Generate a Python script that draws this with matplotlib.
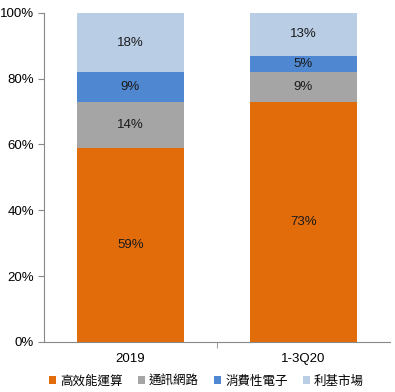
import matplotlib
matplotlib.use("Agg")
import matplotlib.pyplot as plt
import numpy as np

plt.rcParams["font.family"] = ["Liberation Sans", "Noto Sans CJK TC", "DejaVu Sans"]

categories = ["2019", "1-3Q20"]
series_names = ["高效能運算", "通訊網路", "消費性電子", "利基市場"]
hpc = [59, 73]
network = [14, 9]
consumer = [9, 5]
niche = [18, 13]
colors = ["#E36C0A", "#A5A5A5", "#4F87D0", "#B9CDE5"]


def main():
    fig = plt.figure(figsize=(3.95, 3.92), dpi=100)
    ax = fig.add_axes([0.111, 0.128, 0.876, 0.839])

    x = np.arange(len(categories))
    bottom = np.zeros(len(categories))
    for name, vals, color in zip(series_names, [hpc, network, consumer, niche], colors):
        vals = np.array(vals, dtype=float)
        ax.bar(x, vals, 0.62, bottom=bottom, color=color, label=name)
        for xi, b, v in zip(x, bottom, vals):
            ax.text(xi, b + v / 2, f"{v:.0f}%", ha="center", va="center",
                    fontsize=9.5, color="#1a1a1a")
        bottom += vals

    ax.set_xlim(-0.5, len(categories) - 0.5)
    ax.set_ylim(0, 100)
    ax.set_yticks(np.arange(0, 101, 20))
    ax.set_yticklabels([f"{v}%" for v in range(0, 101, 20)], fontsize=9.5)
    ax.set_xticks(x)
    ax.set_xticklabels(categories, fontsize=9.5)
    ax.set_xticks([0.5], minor=True)
    ax.tick_params(axis="x", which="major", length=0, pad=8)
    ax.tick_params(axis="x", which="minor", length=4, color="#888888")
    ax.tick_params(axis="y", length=4, color="#888888", pad=3)

    for side in ["top", "right"]:
        ax.spines[side].set_visible(False)
    ax.spines["left"].set_color("#888888")
    ax.spines["bottom"].set_color("#888888")

    ax.legend(loc="center", bbox_to_anchor=(0.47, -0.12), ncol=4,
              frameon=False, handlelength=0.6, handleheight=0.6,
              handletextpad=0.3, columnspacing=1.2,
              prop={"family": ["Noto Sans CJK TC"], "size": 9})

    fig.savefig("out.png", dpi=100)


if __name__ == "__main__":
    main()
